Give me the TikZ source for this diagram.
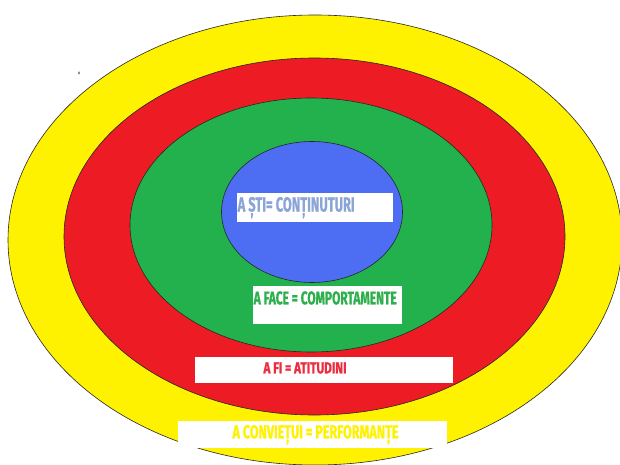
\documentclass[tikz,border=0pt]{standalone}
\usepackage{graphicx}
\usepackage{fontspec}
\setmainfont{Fira Sans}
\newfontfamily\lblfont[BoldFeatures={FakeBold=1.2}]{Fira Sans}
\usetikzlibrary{shapes.geometric}
\definecolor{cyellow}{RGB}{255,242,0}
\definecolor{cred}{RGB}{237,28,36}
\definecolor{cgreen}{RGB}{34,177,76}
\definecolor{cblue}{RGB}{77,109,243}
\definecolor{tblue}{RGB}{140,165,215}
\definecolor{tgreen}{RGB}{45,175,75}
\definecolor{tred}{RGB}{236,45,65}
\definecolor{tyellow}{RGB}{255,242,0}
\definecolor{dotgray}{RGB}{120,120,120}
\begin{document}
\begin{tikzpicture}[x=1pt,y=-1pt,
  ring/.style={ellipse, draw=black!85, line width=0.6pt, inner sep=0pt},
  band/.style={fill=white, inner sep=0pt},
  lbl/.style={inner sep=0pt, anchor=base west, font=\lblfont\bfseries}]
\useasboundingbox (0,0) rectangle (620,465);
\clip (0,0) rectangle (620,465);
\fill[white] (0,0) rectangle (620,465);
\node[ring, fill=cyellow, minimum width=614pt, minimum height=450pt] (yellow) at (315,240) {};
\node[ring, fill=cred, minimum width=501pt, minimum height=357pt] (red) at (314.5,236.5) {};
\node[ring, fill=cgreen, minimum width=362pt, minimum height=254pt] (green) at (311,225) {};
\node[ring, fill=cblue, minimum width=181pt, minimum height=141pt] (blue) at (312,212) {};
\node[ellipse, fill=dotgray, minimum width=2pt, minimum height=3.5pt, inner sep=0pt] (dot) at (79,73) {};
% white bands
\path[band] (237,193) rectangle (393,222) node[midway] (bandblue) {};
\path[band] (253,286) rectangle (402,324) node[midway] (bandgreen) {};
\path[band] (195,357) rectangle (453,383) node[midway] (bandred) {};
\path[band] (178,421) rectangle (447,448) node[midway] (bandyellow) {};
% labels
\node[lbl, text=tblue] (lblue) at (237.5,211.5) {\resizebox{117pt}{14.5pt}{A ȘTI= CONȚINUTURI}};
\node[lbl, text=tgreen] (lgreen) at (253.5,304.3) {\resizebox{143pt}{13pt}{A FACE = COMPORTAMENTE}};
\node[lbl, text=tred] (lred) at (263.3,373.3) {\resizebox{83pt}{11pt}{A FI = ATITUDINI}};
\node[lbl, text=tyellow] (lyellow) at (232.3,438.3) {\resizebox{166pt}{13.3pt}{A CONVIEȚUI = PERFORMANȚE}};
\end{tikzpicture}
\end{document}
